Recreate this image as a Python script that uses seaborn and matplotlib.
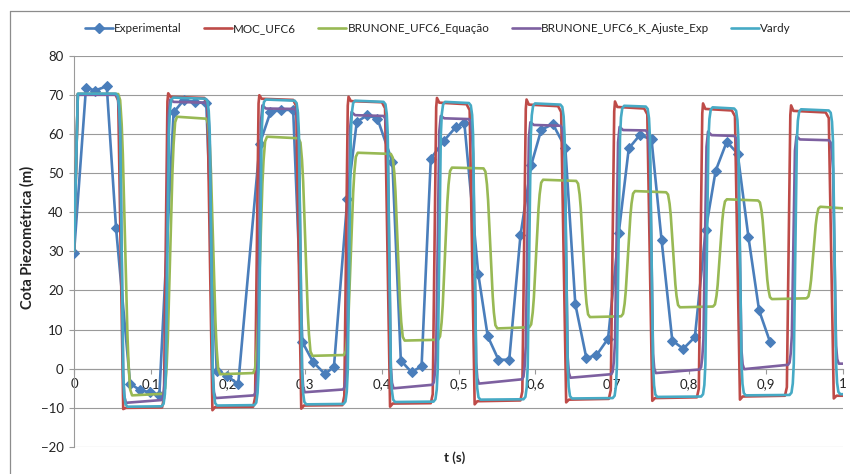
import matplotlib
matplotlib.use("Agg")
import matplotlib.pyplot as plt
import pandas as pd
import seaborn as sns
from matplotlib.lines import Line2D

# ---------------- data ----------------
# Experimental (measured points)
exp_t = [0.000, 0.0156, 0.0274, 0.0426, 0.0547, 0.073, 0.086, 0.099, 0.111,
         0.1295, 0.1425, 0.1578, 0.172, 0.1855, 0.199, 0.2135,
         0.2416, 0.2555, 0.2695, 0.285, 0.297, 0.311, 0.326, 0.338,
         0.3555, 0.3677, 0.3816, 0.3946, 0.414, 0.425, 0.439, 0.452,
         0.464, 0.4807, 0.4967, 0.5076, 0.5258, 0.538, 0.552, 0.566,
         0.5806, 0.5945, 0.6076, 0.6228, 0.6389, 0.6519, 0.6662, 0.6793, 0.6945,
         0.7084, 0.7214, 0.7357, 0.751, 0.764, 0.778, 0.7923, 0.8074,
         0.8214, 0.8344, 0.8488, 0.863, 0.877, 0.8909, 0.9052]
exp_v = [29.5, 71.8, 71.1, 72.2, 35.9, -3.8, -5.5, -6.0, -6.6,
         65.5, 68.6, 68.2, 67.8, -0.5, -1.8, -4.0,
         57.5, 65.6, 66.1, 66.2, 6.8, 1.7, -1.3, 0.4,
         43.5, 63.1, 64.8, 63.9, 52.9, 2.1, -0.9, 0.7,
         53.7, 58.2, 61.8, 62.8, 24.1, 8.3, 2.3, 2.3,
         34.1, 52.0, 61.1, 62.5, 56.5, 16.5, 2.8, 3.4, 7.7,
         34.7, 56.3, 59.7, 58.6, 33.0, 7.2, 5.1, 8.1,
         35.4, 50.6, 58.0, 55.0, 33.7, 14.9, 6.8]

# MOC_UFC6: switching times, plateau levels (start, end), peaks / undershoots
moc_fall = [0.061, 0.177, 0.2925, 0.408, 0.518, 0.637, 0.749, 0.863, 0.985]
moc_rise = [0.119, 0.2375, 0.3535, 0.4685, 0.585, 0.700, 0.8145, 0.929]
moc_top = [(70.2, 70.2), (69.5, 69.2), (69.0, 68.7), (68.4, 68.1), (68.0, 67.6),
           (67.5, 67.1), (66.9, 66.5), (66.4, 66.0), (65.9, 65.5)]
moc_bottom = [(-10.0, -9.9), (-9.8, -9.7), (-9.4, -9.3), (-8.9, -8.8), (-8.3, -8.1),
              (-7.9, -7.7), (-7.5, -7.3), (-7.1, -6.9), (-6.9, -6.9)]
moc_peak = [70.4, 69.9, 69.5, 69.2, 68.8, 68.3, 67.8, 67.3]
moc_under = [-10.3, -10.6, -10.2, -9.7, -9.1, -8.6, -8.2, -7.9, -7.6]

# BRUNONE_UFC6_Equação
equ_fall = [0.0665, 0.181, 0.301, 0.421, 0.5415, 0.662, 0.779, 0.8985]
equ_rise = [0.125, 0.242, 0.360, 0.4825, 0.601, 0.7205, 0.840, 0.9615]
equ_top = [(70.2, 70.2), (64.4, 63.9), (59.3, 58.9), (55.2, 54.9), (51.4, 51.2),
           (48.3, 48.0), (45.4, 45.1), (43.3, 43.0), (41.4, 41.0)]
equ_bottom = [(-6.8, -6.4), (-1.4, -1.1), (3.3, 3.5), (7.2, 7.4), (10.3, 10.6),
              (13.2, 13.4), (15.7, 15.9), (17.8, 18.0)]

# BRUNONE_UFC6_K_Ajuste_Exp
kaj_fall = [0.0615, 0.178, 0.294, 0.4095, 0.5205, 0.6395, 0.7505, 0.8655, 0.9885]
kaj_rise = [0.1205, 0.2405, 0.3565, 0.4725, 0.589, 0.705, 0.820, 0.935]
kaj_top = [(70.0, 70.0), (68.2, 68.0), (66.5, 66.4), (64.8, 64.6), (64.0, 63.8),
           (62.3, 62.1), (61.0, 60.9), (59.7, 59.5), (58.6, 58.4)]
kaj_peak = [68.8, 67.3, 65.6, 64.6, 63.0, 61.8, 60.6, 59.4]
kaj_bottom = [(-8.7, -8.0), (-7.5, -6.8), (-6.0, -5.3), (-5.0, -4.1), (-3.8, -2.7),
              (-2.3, -1.4), (-1.1, -0.2), (-0.1, 1.0), (1.3, 1.3)]

# Vardy
var_fall = [0.062, 0.1785, 0.2945, 0.410, 0.521, 0.640, 0.751, 0.866, 0.989]
var_rise = [0.1215, 0.242, 0.358, 0.475, 0.592, 0.708, 0.823, 0.938]
var_top = [(70.3, 70.3), (69.3, 69.0), (68.8, 68.5), (68.5, 68.2), (68.2, 67.9),
           (67.8, 67.5), (67.2, 67.0), (66.8, 66.5), (66.3, 66.0)]
var_bottom = [(-9.7, -9.6), (-9.4, -9.3), (-9.1, -9.0), (-8.5, -8.4), (-7.9, -7.8),
              (-7.6, -7.5), (-7.2, -7.1), (-6.8, -6.7), (-6.5, -6.5)]

labels = ["Experimental", "MOC_UFC6", "BRUNONE_UFC6_Equação",
          "BRUNONE_UFC6_K_Ajuste_Exp", "Vardy"]
colors = ["#4A7EBB", "#BE4B48", "#98B954", "#7D60A0", "#46AAC5"]
x_ticks = [0, 0.1, 0.2, 0.3, 0.4, 0.5, 0.6, 0.7, 0.8, 0.9, 1.0]
x_ticklabels = ["0", "0,1", "0,2", "0,3", "0,4", "0,5", "0,6", "0,7", "0,8", "0,9", "1"]
y_ticks = list(range(-20, 81, 10))

# ---------------- corner shapes of the simulated transitions ----------------
# (dt, fraction of the jump); None -> use the peak/undershoot value
SHARP_FALL = [(-0.0075, 0.0), (-0.0035, 0.02), (0.003, None), (0.0065, 1.0)]
SHARP_RISE = [(-0.0045, 0.0), (-0.002, 0.03), (0.0025, 0.985), (0.0035, None), (0.0065, 1.0)]
ROUND = [(-0.0075, 0.0), (-0.005, 0.008), (-0.0033, 0.04), (-0.002, 0.11),
         (0.002, 0.89), (0.0033, 0.96), (0.005, 0.992), (0.0075, 1.0)]
K_FALL = [(-0.007, 0.0), (-0.0045, 0.01), (-0.003, 0.05), (-0.0015, 0.13),
          (0.0025, 0.92), (0.004, 0.98), (0.006, 1.0)]
K_RISE = [(-0.0065, 0.0), (-0.0045, 0.01), (-0.003, 0.05), (-0.0015, 0.13),
          (0.0025, 0.95), (0.0045, None), (0.009, 1.0)]
SOFT = [(-0.009, 0.0), (-0.0065, 0.02), (-0.0045, 0.1), (-0.003, 0.2),
        (0.003, 0.8), (0.0045, 0.9), (0.0065, 0.98), (0.009, 1.0)]


def build(falls, rises, tops, bottoms, pf, pr, rise_extra=None, fall_extra=None):
    edges, plats, kinds, extra = [], [tops[0]], [], []
    for i, f in enumerate(falls):
        edges.append(f); kinds.append("f"); plats.append(bottoms[i])
        extra.append(fall_extra[i] if fall_extra else None)
        if i < len(rises):
            edges.append(rises[i]); kinds.append("r"); plats.append(tops[i + 1])
            extra.append(rise_extra[i] if rise_extra else None)
    ts, vs = [0.0, 0.005], [30.0, tops[0][0]]
    prev = tops[0][1]
    for e, k, (s, end), x in zip(edges, kinds, plats[1:], extra):
        for dt, fr in (pf if k == "f" else pr):
            ts.append(e + dt)
            vs.append(x if fr is None else prev + fr * (s - prev))
        prev = end
    ts.append(1.0)
    vs.append(prev)
    return ts, vs


moc_t, moc_v = build(moc_fall, moc_rise, moc_top, moc_bottom, SHARP_FALL, SHARP_RISE,
                     rise_extra=moc_peak, fall_extra=moc_under)
equ_t, equ_v = build(equ_fall, equ_rise, equ_top, equ_bottom, SOFT, SOFT)
kaj_t, kaj_v = build(kaj_fall, kaj_rise, kaj_top, kaj_bottom, K_FALL, K_RISE,
                     rise_extra=kaj_peak)
var_t, var_v = build(var_fall, var_rise, var_top, var_bottom, ROUND, ROUND)

series = [(exp_t, exp_v), (moc_t, moc_v), (equ_t, equ_v), (kaj_t, kaj_v), (var_t, var_v)]

# ---------------- figure ----------------
sns.set_style("white")
plt.rcParams["font.family"] = ["Lato", "DejaVu Sans"]

fig = plt.figure(figsize=(8.5, 4.74), dpi=100)
ax = fig.add_axes([74 / 850, 1 - 447 / 474, (843 - 74) / 850, (447 - 55.7) / 474])

handles = []
for i, ((t, v), lab, col) in enumerate(zip(series, labels, colors)):
    df = pd.DataFrame({"t": t, "v": v})
    if i == 0:
        sns.lineplot(data=df, x="t", y="v", ax=ax, color=col, lw=1.9, sort=False,
                     estimator=None, marker="D", markersize=5.2, markeredgecolor=col,
                     zorder=3, clip_on=True)
        handles.append(Line2D([], [], color=col, lw=1.9, marker="D", markersize=5.2,
                              markeredgecolor=col))
    else:
        sns.lineplot(data=df, x="t", y="v", ax=ax, color=col, lw=1.9, sort=False,
                     estimator=None, zorder=3 + i)
        handles.append(Line2D([], [], color=col, lw=1.9))

ax.set_xlim(0, 1)
ax.set_ylim(-20, 80)
ax.set_yticks(y_ticks)
ax.set_xticks(x_ticks)
ax.set_xticklabels(x_ticklabels)
ax.grid(axis="y", color="#9a9a9a", lw=0.8)
ax.grid(axis="x", visible=False)
ax.set_axisbelow(True)

for s in ["top", "right"]:
    ax.spines[s].set_visible(False)
ax.spines["left"].set_color("#9a9a9a")
ax.spines["left"].set_linewidth(0.8)
ax.spines["bottom"].set_position(("data", 0))
ax.spines["bottom"].set_color("#9a9a9a")
ax.spines["bottom"].set_linewidth(0.8)

ax.tick_params(axis="y", direction="out", length=3.5, width=0.8, color="#9a9a9a",
               labelsize=9.5, labelcolor="#222222", pad=4, left=True)
ax.tick_params(axis="x", direction="out", length=3.5, width=0.8, color="#9a9a9a",
               labelsize=9.5, labelcolor="#222222", pad=3, bottom=True)

ax.set_xlabel("t (s)", fontsize=9.5, fontweight="bold", color="#222222")
ax.set_ylabel("Cota Piezométrica (m)", fontsize=10.5, fontweight="bold", color="#222222")
ax.xaxis.set_label_coords(0.495, -0.012)
ax.yaxis.set_label_coords(-0.051, 0.536)

fig.legend(handles, labels, loc="center left", bbox_to_anchor=(85 / 850, 1 - 29 / 474),
           ncol=5, frameon=False, fontsize=8.4, handlelength=2.4, handletextpad=0.1,
           columnspacing=1.9, borderpad=0, borderaxespad=0, labelcolor="#222222")

# chart-area border (left and top edges visible in the reference)
fig.add_artist(Line2D([10 / 850, 10 / 850], [0, 1 - 11 / 474], transform=fig.transFigure,
                      color="#8c8c8c", lw=0.9))
fig.add_artist(Line2D([10 / 850, 1], [1 - 11 / 474, 1 - 11 / 474], transform=fig.transFigure,
                      color="#8c8c8c", lw=0.9))

fig.savefig("out.png", dpi=100, facecolor="white")
